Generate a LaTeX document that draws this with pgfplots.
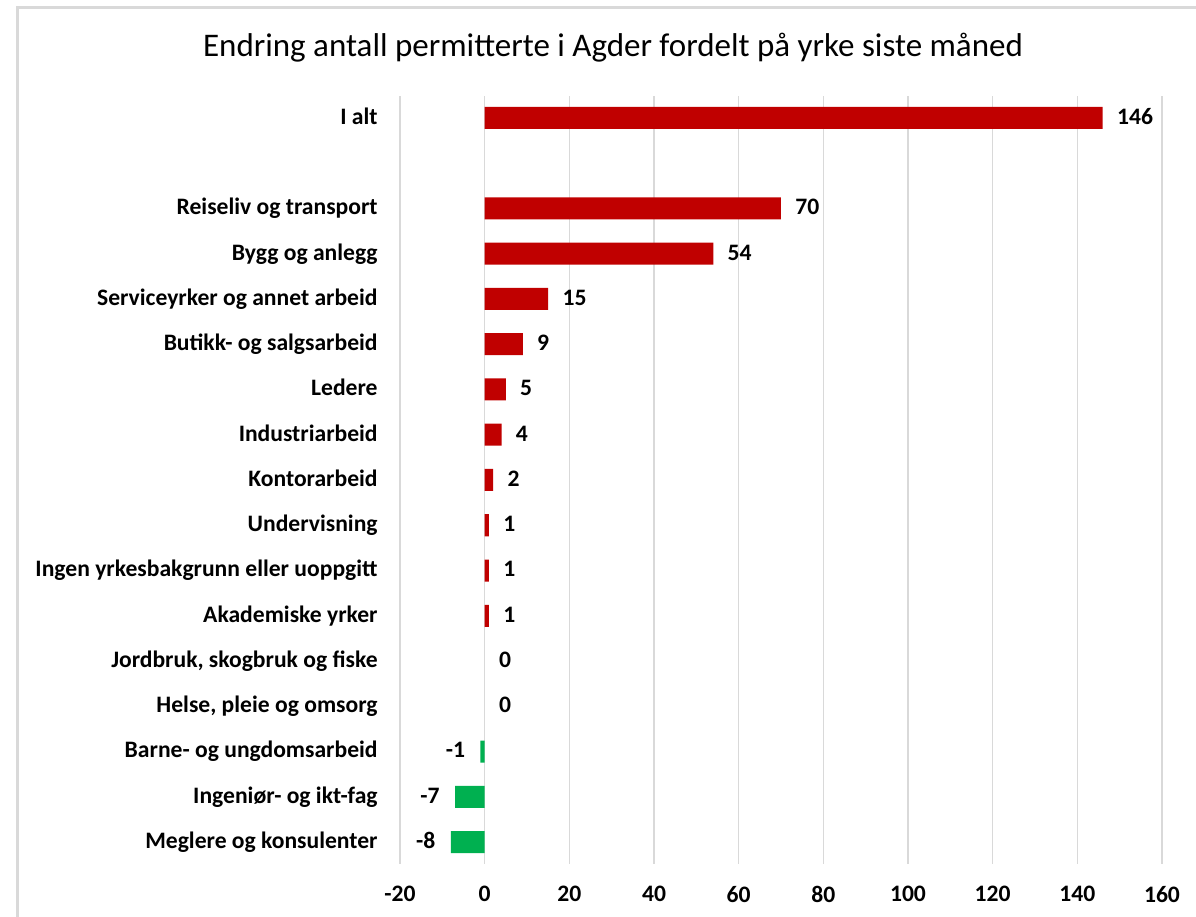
\documentclass[border=0pt]{standalone}
\usepackage{pgfplots}
\pgfplotsset{compat=1.18}
\usepackage{fontspec}
\setmainfont{Carlito}
\definecolor{barred}{HTML}{C00000}
\definecolor{bargreen}{HTML}{00B050}
\definecolor{gridgray}{HTML}{D9D9D9}
\definecolor{framegray}{HTML}{D9D9D9}
\begin{document}
\begin{tikzpicture}
\path[use as bounding box] (0pt,0pt) rectangle (598pt,458.5pt);
\draw[framegray,line width=1.5pt] (8.5pt,0pt) -- (8.5pt,454.5pt) -- (598pt,454.5pt);
\node[anchor=base,font=\fontsize{16.5}{19}\selectfont,inner sep=0pt] at (306.5pt,430pt) {Endring antall permitterte i Agder fordelt på yrke siste måned};
\begin{axis}[
  at={(200pt,26.5pt)}, anchor=south west,
  scale only axis, width=381pt, height=384pt,
  xmin=-20, xmax=160, ymin=-0.486, ymax=16.486,
  xbar, bar width=11pt, bar shift=0pt,
  axis line style={draw=none},
  major tick length=0pt,
  xmajorgrids, grid style={gridgray,line width=0.8pt},
  xtick={-20,0,20,40,60,80,100,120,140,160},
  xticklabels={-20,0,20,40,60,80,100,120,140,160},
  ytick={0,1,2,3,4,5,6,7,8,9,10,11,12,13,14,16},
  yticklabels={Meglere og konsulenter,Ingeniør- og ikt-fag,Barne- og ungdomsarbeid,{Helse, pleie og omsorg},{Jordbruk, skogbruk og fiske},Akademiske yrker,Ingen yrkesbakgrunn eller uoppgitt,Undervisning,Kontorarbeid,Industriarbeid,Ledere,Butikk- og salgsarbeid,Serviceyrker og annet arbeid,Bygg og anlegg,Reiseliv og transport,I alt},
  tick label style={font=\fontsize{11.8}{14}\selectfont\bfseries, inner sep=0pt},
  yticklabel style={anchor=east, xshift=-11pt, text height=0.644em, text depth=0pt},
  xticklabel style={anchor=north, yshift=-11pt},
  nodes near coords,
  point meta=explicit symbolic,
  every node near coord/.append style={font=\fontsize{11.8}{14}\selectfont\bfseries, inner sep=0pt, text=black, text height=0.644em, text depth=0pt},
]
\addplot[fill=barred, draw=none, nodes near coords style={anchor=west, xshift=7pt}] table[x=x, y=y, meta=lab] {
x y lab
146 16 146
70 14 70
54 13 54
15 12 15
9 11 9
5 10 5
4 9 4
2 8 2
1 7 1
1 6 1
1 5 1
};
\addplot[fill=none, draw=none, nodes near coords style={anchor=west, xshift=7pt}] table[x=x, y=y, meta=lab] {
x y lab
0 4 0
0 3 0
};
\addplot[fill=bargreen, draw=none, nodes near coords style={anchor=east, xshift=-7.5pt}] table[x=x, y=y, meta=lab] {
x y lab
-1 2 -1
-7 1 -7
-8 0 -8
};
\end{axis}
\end{tikzpicture}
\end{document}
